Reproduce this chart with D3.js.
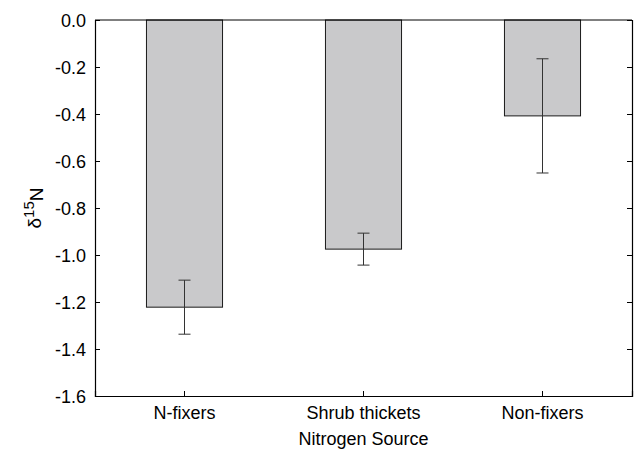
<!DOCTYPE html>
<html>
<head>
<meta charset="utf-8">
<script src="https://cdn.jsdelivr.net/npm/d3@7"></script>
<style>
  body { margin: 0; background: #fff; }
  svg { font-family: "Liberation Sans", Arial, sans-serif; }
</style>
</head>
<body>
<script>
// data
const categories = ["N-fixers", "Shrub thickets", "Non-fixers"];
const means = [-1.222, -0.975, -0.408];
const errors = [0.115, 0.068, 0.243];
const yTicks = [0, -0.2, -0.4, -0.6, -0.8, -1.0, -1.2, -1.4, -1.6];

const width = 638, height = 452;
const margin = {top: 20, right: 6, bottom: 56, left: 95};
const innerWidth = width - margin.left - margin.right;
const innerHeight = height - margin.top - margin.bottom;

let svg = d3.select("body").append("svg")
  .attr("width", width)
  .attr("height", height)
  .style("display", "block");

let g = svg.append("g")
  .attr("transform", "translate(" + margin.left + "," + margin.top + ")");

let yScale = d3.scaleLinear()
  .domain([-1.6, 0])
  .range([innerHeight, 0]);

let xScale = d3.scaleBand()
  .domain(categories)
  .range([0, innerWidth])
  .paddingInner(0.575)
  .paddingOuter(0.2875);

let xCenter = d => xScale(d) + xScale.bandwidth() / 2;

// bars hang down from zero
g.selectAll(".bar")
  .data(categories)
  .enter().append("rect")
    .attr("class", "bar")
    .attr("x", d => xScale(d))
    .attr("width", xScale.bandwidth())
    .attr("y", yScale(0))
    .attr("height", (d, i) => yScale(means[i]) - yScale(0))
    .attr("fill", "#c9c9cb")
    .attr("stroke", "#1a1a1a")
    .attr("stroke-width", 1);

// error bars
let eb = g.selectAll(".err")
  .data(categories)
  .enter().append("g")
    .attr("class", "err")
    .attr("stroke", "#333")
    .attr("stroke-width", 1);
eb.append("line")
  .attr("x1", d => xCenter(d)).attr("x2", d => xCenter(d))
  .attr("y1", (d, i) => yScale(means[i] + errors[i]))
  .attr("y2", (d, i) => yScale(means[i] - errors[i]));
eb.append("line")
  .attr("x1", d => xCenter(d) - 6).attr("x2", d => xCenter(d) + 6)
  .attr("y1", (d, i) => yScale(means[i] + errors[i]))
  .attr("y2", (d, i) => yScale(means[i] + errors[i]));
eb.append("line")
  .attr("x1", d => xCenter(d) - 6).attr("x2", d => xCenter(d) + 6)
  .attr("y1", (d, i) => yScale(means[i] - errors[i]))
  .attr("y2", (d, i) => yScale(means[i] - errors[i]));

// axes, ticks pointing inward
let fmt = d3.format(".1f");
let yAxis = g.append("g")
  .attr("class", "axis axis--y")
  .call(d3.axisLeft(yScale).tickValues(yTicks).tickSize(-5).tickPadding(9)
    .tickFormat(d => fmt(d).replace("−", "-")));
g.append("g")
  .attr("class", "axis axis--right")
  .attr("transform", "translate(" + innerWidth + ",0)")
  .call(d3.axisRight(yScale).tickValues(yTicks).tickSize(-5).tickFormat(""));
let xAxis = g.append("g")
  .attr("class", "axis axis--x")
  .attr("transform", "translate(0," + innerHeight + ")")
  .call(d3.axisBottom(xScale).tickSize(-5).tickPadding(10));
g.append("line")
  .attr("x1", 0).attr("x2", innerWidth)
  .attr("y1", 0).attr("y2", 0)
  .attr("stroke", "#000");

g.selectAll(".axis path").attr("stroke", "#000").attr("stroke-width", 1.2);
g.selectAll(".axis line").attr("stroke", "#000");
g.selectAll(".axis text")
  .attr("fill", "#000")
  .style("font-size", "18px")
  .style("font-family", "'Liberation Sans', Arial, sans-serif");
yAxis.selectAll("text").attr("dy", "0.36em");

// axis titles
svg.append("text")
  .attr("x", margin.left + innerWidth / 2)
  .attr("y", 445)
  .attr("text-anchor", "middle")
  .style("font-size", "18px")
  .text("Nitrogen Source");

let yl = svg.append("text")
  .attr("transform", "translate(41," + (margin.top + innerHeight / 2) + ") rotate(-90)")
  .attr("text-anchor", "middle")
  .style("font-size", "19px");
yl.append("tspan").text("δ");
yl.append("tspan").attr("dy", "-0.45em").style("font-size", "15px").text("15");
yl.append("tspan").attr("dy", "0.45em").text("N");
</script>
</body>
</html>
